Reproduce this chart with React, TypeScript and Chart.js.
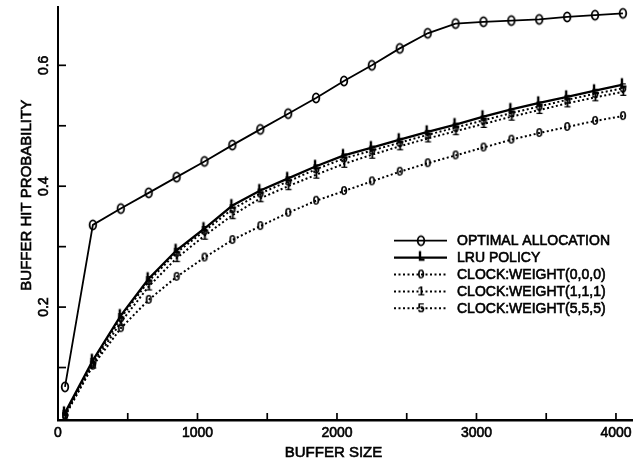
import { useEffect, useRef } from 'react';
import { Chart, registerables } from 'chart.js';

Chart.register(...registerables);

const bufferSizes = [50, 250, 450, 650, 850, 1050, 1250, 1450, 1650, 1850, 2050, 2250, 2450, 2650, 2850, 3050, 3250, 3450, 3650, 3850, 4050];
const optimalAllocation = [0.068, 0.336, 0.363, 0.389, 0.415, 0.441, 0.468, 0.494, 0.520, 0.546, 0.574, 0.600, 0.628, 0.653, 0.669, 0.672, 0.674, 0.676, 0.680, 0.683, 0.686];
const lruPolicy = [0.025, 0.112, 0.186, 0.247, 0.294, 0.330, 0.368, 0.393, 0.413, 0.433, 0.451, 0.464, 0.477, 0.490, 0.502, 0.515, 0.527, 0.538, 0.548, 0.558, 0.568];
const clockWeight000 = [0.020, 0.103, 0.165, 0.212, 0.250, 0.282, 0.311, 0.334, 0.356, 0.376, 0.392, 0.408, 0.424, 0.438, 0.451, 0.464, 0.477, 0.488, 0.498, 0.508, 0.516];
const clockWeight111 = [0.020, 0.105, 0.175, 0.234, 0.281, 0.318, 0.352, 0.380, 0.400, 0.419, 0.437, 0.452, 0.466, 0.479, 0.491, 0.503, 0.515, 0.526, 0.537, 0.547, 0.556];
const clockWeight555 = [0.022, 0.108, 0.182, 0.243, 0.290, 0.326, 0.362, 0.388, 0.408, 0.428, 0.446, 0.459, 0.472, 0.485, 0.497, 0.509, 0.521, 0.532, 0.543, 0.553, 0.562];

const seriesNames = ['OPTIMAL ALLOCATION', 'LRU POLICY', 'CLOCK:WEIGHT(0,0,0)', 'CLOCK:WEIGHT(1,1,1)', 'CLOCK:WEIGHT(5,5,5)'];
const xTickMarks = [500, 1000, 1500, 2000, 2500, 3000, 3500, 4000];
const xTickLabels = ['0', '1000', '2000', '3000', '4000'];
const yTickMarks = [0.1, 0.2, 0.3, 0.4, 0.5, 0.6];
const yTickLabels = ['0.2', '0.4', '0.6'];
const xTitle = 'BUFFER SIZE';
const yTitle = 'BUFFER HIT PROBABILITY';

const FONT = '"Liberation Sans", Arial, Helvetica, sans-serif';

function makeMarker(kind: string): HTMLCanvasElement {
  const c = document.createElement('canvas');
  c.width = 14;
  c.height = 16;
  const ctx = c.getContext('2d')!;
  ctx.strokeStyle = '#000';
  ctx.fillStyle = '#000';
  if (kind === 'oval') {
    ctx.lineWidth = 1.8;
    ctx.beginPath();
    ctx.ellipse(7, 8, 3.3, 4.6, 0, 0, Math.PI * 2);
    ctx.stroke();
  } else if (kind === 'L') {
    ctx.lineWidth = 2.4;
    ctx.beginPath();
    ctx.moveTo(6, 1.5);
    ctx.lineTo(6, 10);
    ctx.lineTo(10.5, 10);
    ctx.stroke();
  } else {
    ctx.font = 'bold 13px ' + FONT;
    ctx.textAlign = 'center';
    ctx.textBaseline = 'middle';
    ctx.fillText(kind, 7, 8.5);
  }
  return c;
}

function strokeFill(ctx: CanvasRenderingContext2D, t: string, x: number, y: number) {
  ctx.fillText(t, x, y);
  ctx.strokeText(t, x, y);
}

export default function App() {
  const ref = useRef<HTMLCanvasElement | null>(null);

  useEffect(() => {
    if (!ref.current) return;
    const markers = [makeMarker('oval'), makeMarker('L'), makeMarker('0'), makeMarker('1'), makeMarker('5')];
    const seriesValues = [optimalAllocation, lruPolicy, clockWeight000, clockWeight111, clockWeight555];
    const widths = [1.8, 2.3, 2, 2, 2];
    const dashes: number[][] = [[], [], [2, 2.5], [2, 2.5], [2, 2.5]];

    const datasets = seriesNames.map((name, i) => ({
      label: name,
      data: bufferSizes.map((x, j) => ({ x, y: seriesValues[i][j] })),
      borderColor: '#000',
      backgroundColor: '#000',
      borderWidth: widths[i],
      borderDash: dashes[i],
      pointStyle: markers[i] as any,
      pointRadius: 5,
      tension: 0,
      fill: false,
    }));

    const decor = {
      id: 'decor',
      afterDraw(chart: any) {
        const ctx = chart.ctx as CanvasRenderingContext2D;
        const xs = chart.scales.x;
        const ys = chart.scales.y;
        const area = chart.chartArea;
        ctx.save();
        ctx.strokeStyle = '#000';
        ctx.fillStyle = '#000';
        ctx.lineWidth = 1.7;
        xTickMarks.forEach((v) => {
          const px = xs.getPixelForValue(v);
          ctx.beginPath();
          ctx.moveTo(px, area.bottom);
          ctx.lineTo(px, area.bottom - 7);
          ctx.stroke();
        });
        yTickMarks.forEach((v) => {
          const py = ys.getPixelForValue(v);
          ctx.beginPath();
          ctx.moveTo(area.left, py);
          ctx.lineTo(area.left + 8, py);
          ctx.stroke();
        });
        ctx.lineWidth = 0.6;
        ctx.font = '14px ' + FONT;
        ctx.textAlign = 'center';
        ctx.textBaseline = 'alphabetic';
        xTickLabels.forEach((t) => {
          strokeFill(ctx, t, xs.getPixelForValue(Number(t)), 437);
        });
        yTickLabels.forEach((t) => {
          const py = ys.getPixelForValue(Number(t));
          ctx.save();
          ctx.translate(44, py);
          ctx.rotate(-Math.PI / 2);
          ctx.textAlign = 'center';
          ctx.textBaseline = 'middle';
          strokeFill(ctx, t, 0, 0);
          ctx.restore();
        });
        ctx.font = '15px ' + FONT;
        ctx.textAlign = 'center';
        ctx.textBaseline = 'alphabetic';
        strokeFill(ctx, xTitle, xs.getPixelForValue(1975), 457);
        ctx.save();
        ctx.translate(27, ys.getPixelForValue(0.385));
        ctx.rotate(-Math.PI / 2);
        ctx.textBaseline = 'middle';
        strokeFill(ctx, yTitle, 0, 0);
        ctx.restore();
        seriesNames.forEach((name, i) => {
          const y = 240.7 + i * 16.9;
          ctx.save();
          ctx.lineWidth = widths[i];
          ctx.setLineDash(dashes[i]);
          ctx.beginPath();
          ctx.moveTo(394, y);
          ctx.lineTo(447, y);
          ctx.stroke();
          ctx.restore();
          const m = markers[i];
          ctx.drawImage(m, 421 - m.width / 2, y - m.height / 2);
          ctx.font = '14px ' + FONT;
          ctx.textAlign = 'left';
          ctx.textBaseline = 'middle';
          strokeFill(ctx, name, 457, y + 0.5);
        });
        ctx.restore();
      },
    };

    const chart = new Chart(ref.current, {
      type: 'line',
      data: { datasets },
      options: {
        responsive: false,
        animation: false,
        layout: { padding: { top: 7, right: 9, left: 0, bottom: 0 } },
        plugins: { legend: { display: false }, tooltip: { enabled: false } },
        scales: {
          x: {
            type: 'linear',
            min: 0,
            max: 4115,
            grid: { display: false },
            border: { display: true, color: '#000', width: 2.5 },
            ticks: { display: false, stepSize: 500 },
            afterFit: (s: any) => { s.height = 46; },
          },
          y: {
            type: 'linear',
            min: 0.0132,
            max: 0.696,
            grid: { display: false },
            border: { display: true, color: '#000', width: 2 },
            ticks: { display: false, stepSize: 0.1 },
            afterFit: (s: any) => { s.width = 58; },
          },
        },
      },
      plugins: [decor],
    });
    return () => chart.destroy();
  }, []);

  return (
    <div style={{ position: 'fixed', left: 0, top: 0, width: 641, height: 466, background: '#fff' }}>
      <canvas ref={ref} width={641} height={466} />
    </div>
  );
}
